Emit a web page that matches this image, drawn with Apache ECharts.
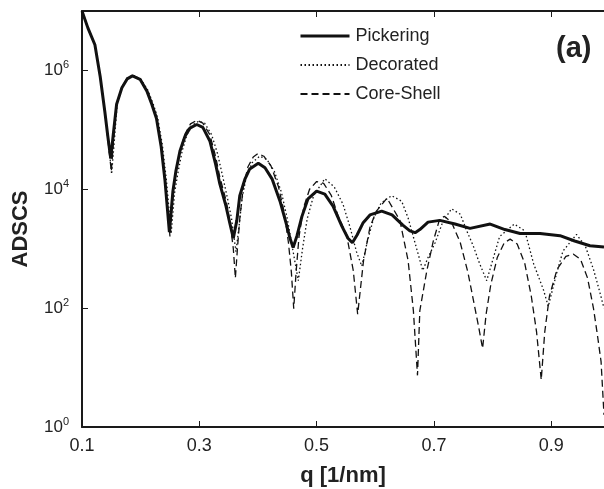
<!DOCTYPE html>
<html>
<head>
<meta charset="utf-8">
<script src="https://cdn.jsdelivr.net/npm/echarts@6/dist/echarts.min.js"></script>
<style>
  html, body { margin: 0; padding: 0; background: #fff; }
  #main { width: 604px; height: 489px; }
</style>
</head>
<body>
<div id="main"></div>
<script>
// 数据：各曲线 (q, ADSCS)
var pickQ = [0.100,0.110,0.122,0.131,0.139,0.144,0.149,0.153,0.159,0.168,0.177,0.186,0.199,0.211,0.219,0.227,0.235,0.2415,0.249,0.255,0.260,0.267,0.2756,0.284,0.2956,0.306,0.318,0.328,0.335,0.3455,0.352,0.358,0.364,0.369,0.378,0.386,0.4006,0.412,0.424,0.4376,0.448,0.4546,0.460,0.4666,0.475,0.4853,0.500,0.514,0.528,0.543,0.5535,0.561,0.569,0.579,0.591,0.611,0.6286,0.647,0.659,0.668,0.676,0.690,0.710,0.736,0.7616,0.796,0.821,0.847,0.881,0.915,0.940,0.966,0.990];
var pickY = [1e7,5.2e6,2.7e6,7.9e5,2.0e5,7.8e4,3.3e4,7.8e4,2.7e5,5.1e5,7.2e5,8.1e5,7.1e5,4.4e5,2.7e5,1.55e5,5.2e4,1.4e4,1.9e3,9.3e3,2.0e4,4.4e4,7.8e4,1.07e5,1.23e5,1.1e5,6.5e4,2.6e4,1.23e4,5.2e3,2.7e3,1.5e3,3.0e3,7.8e3,1.5e4,2.2e4,2.75e4,2.3e4,1.5e4,6.3e3,2.7e3,1.5e3,1.05e3,1.66e3,3.5e3,6.9e3,9.3e3,8.3e3,5.2e3,2.4e3,1.5e3,1.26e3,1.7e3,2.7e3,3.7e3,4.3e3,3.7e3,2.5e3,2.0e3,1.86e3,2.1e3,2.8e3,3.0e3,2.6e3,2.2e3,2.6e3,2.1e3,1.8e3,1.8e3,1.66e3,1.35e3,1.12e3,1.07e3];

var decoQ = [0.100,0.110,0.122,0.131,0.139,0.145,0.1505,0.155,0.160,0.168,0.177,0.187,0.200,0.212,0.221,0.229,0.237,0.244,0.252,0.258,0.264,0.271,0.279,0.288,0.299,0.309,0.321,0.331,0.339,0.348,0.355,0.3625,0.368,0.373,0.380,0.390,0.403,0.415,0.428,0.440,0.450,0.460,0.4688,0.476,0.484,0.495,0.514,0.530,0.545,0.557,0.568,0.577,0.586,0.597,0.610,0.628,0.645,0.656,0.670,0.681,0.690,0.702,0.715,0.730,0.745,0.756,0.767,0.778,0.790,0.800,0.812,0.837,0.855,0.870,0.887,0.895,0.909,0.920,0.943,0.958,0.972,0.982,0.990];
var decoY = [1e7,5.2e6,2.7e6,7.9e5,2.0e5,6.3e4,1.8e4,6.3e4,2.7e5,5.2e5,7.4e5,8.3e5,7.2e5,4.7e5,2.8e5,1.6e5,5.6e4,1.4e4,1.8e3,8.9e3,2.0e4,4.5e4,8.3e4,1.2e5,1.4e5,1.3e5,8.3e4,4.0e4,1.8e4,7.1e3,3.2e3,8.9e2,2.5e3,7.1e3,1.6e4,2.8e4,3.6e4,3.2e4,2.0e4,8.9e3,3.2e3,8.9e2,2.9e2,1.0e3,3.2e3,7.9e3,1.5e4,1.1e4,5.6e3,2.3e3,8.9e2,5.1e2,1.26e3,3.2e3,5.9e3,7.8e3,6.3e3,3.3e3,1.05e3,4.3e2,7.1e2,1.26e3,2.8e3,4.7e3,3.8e3,2.0e3,1.12e3,5.6e2,2.9e2,6.3e2,1.6e3,2.6e3,2.0e3,5.6e2,2.0e2,1.07e2,3.8e2,9.1e2,1.74e3,1.12e3,4.5e2,2.0e2,1.0e2];

var coreQ = [0.100,0.110,0.122,0.131,0.139,0.144,0.150,0.154,0.159,0.168,0.177,0.186,0.199,0.211,0.219,0.227,0.235,0.2415,0.250,0.256,0.261,0.268,0.276,0.285,0.296,0.306,0.318,0.328,0.335,0.346,0.353,0.358,0.3615,0.365,0.369,0.375,0.383,0.392,0.400,0.410,0.422,0.435,0.445,0.452,0.457,0.461,0.465,0.470,0.478,0.488,0.500,0.512,0.525,0.537,0.551,0.5625,0.570,0.580,0.591,0.602,0.620,0.642,0.656,0.665,0.672,0.676,0.688,0.699,0.710,0.718,0.730,0.745,0.758,0.768,0.776,0.783,0.789,0.797,0.808,0.820,0.830,0.842,0.855,0.866,0.875,0.883,0.889,0.897,0.910,0.925,0.938,0.950,0.962,0.972,0.978,0.985,0.990];
var coreY = [1e7,5.2e6,2.7e6,7.9e5,2.0e5,7.1e4,2.0e4,7.1e4,2.7e5,5.2e5,7.4e5,8.3e5,7.2e5,4.6e5,2.9e5,1.66e5,5.8e4,1.45e4,1.6e3,9.3e3,2.1e4,4.8e4,8.7e4,1.26e5,1.45e5,1.3e5,8.3e4,3.5e4,1.6e4,6.3e3,2.5e3,1.0e3,3.2e2,1.0e3,3.2e3,1.1e4,2.4e4,3.5e4,4.0e4,3.6e4,2.5e4,1.1e4,4.0e3,1.26e3,4.0e2,98,4.0e2,1.6e3,5.0e3,1.0e4,1.35e4,1.26e4,7.9e3,3.5e3,1.74e3,4.3e2,79,6.3e2,2.3e3,4.3e3,7.1e3,3.0e3,6.3e2,91,7.4,91,4.3e2,1.35e3,3.2e3,3.5e3,2.8e3,1.26e3,4.0e2,1.26e2,50,21,79,2.5e2,7.1e2,1.26e3,1.45e3,1.2e3,5.6e2,1.6e2,40,6.2,40,1.6e2,4.5e2,7.4e2,8.1e2,6.6e2,3.2e2,1.0e2,40,12.6,1.6];

var xTicks = [0.1, 0.3, 0.5, 0.7, 0.9];
var yTicks = [1, 1e2, 1e4, 1e6];

function pairs(qs, ys) {
  var out = [];
  for (var i = 0; i < qs.length; i++) out.push([qs[i], ys[i]]);
  return out;
}

var myChart = echarts.init(document.getElementById('main'));
var ink = '#1a1a1a';
var font = 'Liberation Sans, Arial, sans-serif';

var option = {
  backgroundColor: '#fff',
  animation: false,
  textStyle: { fontFamily: font },
  grid: { left: 82, top: 11, right: 0, bottom: 62, outerBoundsMode: 'none' },
  legend: {
    orient: 'vertical',
    left: 294,
    top: 22,
    itemWidth: 49,
    itemHeight: 14,
    itemGap: 11,
    itemStyle: { opacity: 0 },
    textStyle: { fontSize: 18, color: '#222', fontFamily: font, padding: [0, 0, 0, 1] },
    data: [
      { name: 'Pickering', lineStyle: { width: 3 } },
      { name: 'Decorated' },
      { name: 'Core-Shell' }
    ]
  },
  graphic: [{
    type: 'text', left: 556, top: 34,
    style: { text: '(a)', font: 'bold 29px ' + font, fill: '#222' }
  }],
  xAxis: [{
    type: 'value', min: 0.1, max: 0.99,
    name: 'q [1/nm]', nameLocation: 'middle', nameGap: 38,
    nameTextStyle: { fontSize: 22, fontWeight: 'bold', color: '#222' },
    axisLine: { lineStyle: { color: ink, width: 2 } },
    axisTick: { inside: true, length: 6, customValues: xTicks, lineStyle: { color: ink } },
    axisLabel: {
      fontSize: 18, color: '#222', margin: 10, customValues: xTicks,
      formatter: function (v) { return v.toFixed(1); }
    },
    splitLine: { show: false }
  }, {
    type: 'value', min: 0.1, max: 0.99, position: 'top',
    axisLine: { lineStyle: { color: ink, width: 2 } },
    axisTick: { inside: true, length: 6, customValues: xTicks, lineStyle: { color: ink } },
    axisLabel: { show: false },
    splitLine: { show: false }
  }],
  yAxis: {
    type: 'log', logBase: 10, min: 1, max: 1e7,
    name: 'ADSCS', nameLocation: 'middle', nameGap: 50, nameRotate: 90,
    nameTextStyle: { fontSize: 22, fontWeight: 'bold', color: '#222', padding: [0, 20, 0, 0] },
    axisLine: { lineStyle: { color: ink, width: 2 } },
    axisTick: { inside: true, length: 6, customValues: yTicks, lineStyle: { color: ink } },
    axisLabel: {
      margin: 13, color: '#222', customValues: yTicks,
      formatter: function (v) {
        return '{b|10}{s|' + Math.round(Math.log10(v)) + '}';
      },
      rich: {
        b: { fontSize: 17, color: '#222', fontFamily: font },
        s: { fontSize: 11, color: '#222', fontFamily: font, padding: [0, 0, 11, 0] }
      }
    },
    splitLine: { show: false }
  },
  series: [{
    name: 'Pickering', type: 'line', showSymbol: false, symbol: 'none', z: 5,
    lineStyle: { color: '#111', width: 3 }, itemStyle: { color: '#111' },
    data: pairs(pickQ, pickY)
  }, {
    name: 'Decorated', type: 'line', showSymbol: false, symbol: 'none', z: 3,
    lineStyle: { color: '#111', width: 1.3, type: [1.5, 2.5] }, itemStyle: { color: '#111' },
    data: pairs(decoQ, decoY)
  }, {
    name: 'Core-Shell', type: 'line', showSymbol: false, symbol: 'none', z: 4,
    lineStyle: { color: '#111', width: 1.3, type: [7, 4] }, itemStyle: { color: '#111' },
    data: pairs(coreQ, coreY)
  }]
};

myChart.setOption(option);
</script>
</body>
</html>
